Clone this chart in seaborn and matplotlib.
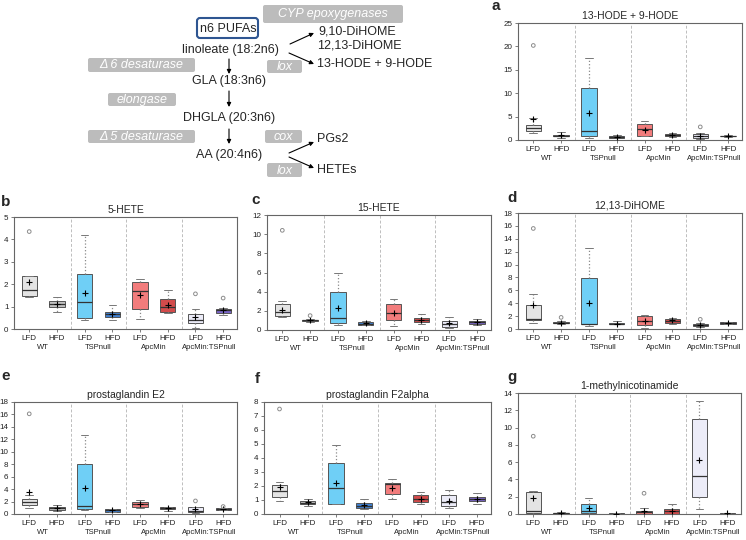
import numpy as np
import pandas as pd
import matplotlib
matplotlib.use("Agg")
import matplotlib.pyplot as plt
from matplotlib.patches import FancyBboxPatch
import seaborn as sns

sns.set_style("white")
plt.rcParams['font.family'] = ['Liberation Sans', 'DejaVu Sans']

# ---------------- data ----------------
groups = ["WT", "TSPnull", "ApcMin", "ApcMin:TSPnull"]
diets = ["LFD", "HFD"]
box_labels = [g + " " + d for g in groups for d in diets]
box_colors = ["#e4e4e4", "#c2c2c2", "#6fcff6", "#3f80d0",
              "#f27c7c", "#d24b4b", "#ececf8", "#7a66c8"]

# five-number summaries per box: [whisker low, Q1, median, Q3, whisker high]
hode_stats = [[1.5, 2.0, 2.6, 3.2, 4.6], [0.5, 0.8, 0.9, 1.1, 1.7],
              [0.5, 0.8, 2.0, 11.2, 17.5], [0.1, 0.4, 0.6, 0.8, 1.0],
              [0.8, 0.9, 2.4, 3.4, 4.0], [0.7, 0.9, 1.1, 1.3, 1.4],
              [0.2, 0.5, 0.9, 1.3, 1.5], [0.7, 0.8, 0.9, 0.95, 1.0]]
hode_means = [4.4, 1.0, 5.8, 0.6, 2.2, 1.1, 0.9, 0.9]
hode_outliers = [(0, 20.2), (6, 2.8)]

hete5_stats = [[1.42, 1.47, 1.76, 2.35, 2.38], [0.75, 0.97, 1.12, 1.26, 1.42],
               [0.4, 0.48, 1.2, 2.47, 4.2], [0.42, 0.55, 0.65, 0.75, 1.08],
               [0.45, 0.9, 1.68, 2.1, 2.22], [0.7, 0.76, 1.0, 1.36, 1.73],
               [0.05, 0.25, 0.4, 0.67, 0.9], [0.62, 0.72, 0.85, 0.9, 0.95]]
hete5_means = [2.1, 1.13, 1.62, 0.67, 1.5, 1.08, 0.55, 0.85]
hete5_outliers = [(0, 4.35), (6, 1.57), (7, 1.38)]

hete15_stats = [[1.4, 1.46, 1.9, 2.7, 3.0], [0.85, 0.9, 1.0, 1.05, 1.1],
                [0.5, 0.7, 1.3, 4.0, 6.0], [0.5, 0.55, 0.65, 0.8, 0.9],
                [0.45, 1.0, 1.8, 2.7, 3.2], [0.6, 0.8, 1.0, 1.25, 1.65],
                [0.2, 0.35, 0.6, 0.95, 1.4], [0.5, 0.65, 0.8, 0.95, 1.2]]
hete15_means = [2.1, 1.0, 2.3, 0.68, 1.8, 1.05, 0.7, 0.8]
hete15_outliers = [(0, 10.4), (1, 1.5)]

dihome_stats = [[1.0, 1.45, 1.6, 3.8, 5.5], [0.7, 0.9, 1.0, 1.1, 1.2],
                [0.4, 0.7, 0.8, 7.9, 12.6], [0.7, 0.75, 0.85, 0.95, 1.2],
                [0.1, 0.6, 1.3, 2.0, 2.2], [0.8, 1.0, 1.3, 1.6, 1.7],
                [0.3, 0.4, 0.6, 0.8, 0.9], [0.8, 0.85, 0.95, 1.05, 1.1]]
dihome_means = [3.7, 1.0, 4.0, 0.85, 1.3, 1.35, 0.6, 0.95]
dihome_outliers = [(0, 15.6), (1, 1.8), (6, 1.5)]

pge2_stats = [[0.9, 1.4, 2.0, 2.45, 3.1], [0.5, 0.7, 0.9, 1.2, 1.4],
              [0.7, 0.75, 1.3, 8.0, 12.7], [0.3, 0.4, 0.6, 0.75, 0.8],
              [1.0, 1.2, 1.6, 2.0, 2.2], [0.5, 0.85, 1.0, 1.15, 1.2],
              [0.2, 0.3, 0.5, 1.1, 1.1], [0.6, 0.7, 0.8, 0.9, 1.0]]
pge2_means = [3.6, 1.0, 4.2, 0.6, 1.6, 1.0, 0.75, 0.8]
pge2_outliers = [(0, 16.1), (6, 2.1), (7, 1.2)]

pgf2a_stats = [[0.95, 1.2, 1.65, 2.1, 2.3], [0.6, 0.7, 0.82, 0.95, 1.1],
               [0.7, 0.7, 1.87, 3.65, 4.9], [0.35, 0.4, 0.6, 0.8, 1.1],
               [1.05, 1.4, 2.15, 2.2, 2.5], [0.7, 0.85, 1.1, 1.35, 1.6],
               [0.4, 0.55, 0.85, 1.35, 1.75], [0.75, 0.9, 1.05, 1.2, 1.5]]
pgf2a_means = [1.9, 0.83, 2.2, 0.65, 1.85, 1.1, 0.95, 1.05]
pgf2a_outliers = [(0, 7.5)]

mna_stats = [[0.05, 0.1, 0.4, 2.6, 2.7], [0.0, 0.05, 0.1, 0.15, 0.2],
             [0.05, 0.1, 0.3, 1.1, 1.85], [0.0, 0.02, 0.04, 0.06, 0.08],
             [0.02, 0.05, 0.2, 0.4, 0.65], [0.0, 0.05, 0.3, 0.6, 1.1],
             [0.6, 2.0, 4.4, 11.0, 13.1], [0.0, 0.02, 0.05, 0.1, 0.15]]
mna_means = [1.8, 0.1, 0.65, 0.05, 0.3, 0.35, 6.2, 0.1]
mna_outliers = [(0, 9.0), (4, 2.4)]

W, H = 746, 540
fig = plt.figure(figsize=(W / 100, H / 100), dpi=100)

# ---------------- pathway diagram ----------------
dg = fig.add_axes([0, 0, 1, 1])
dg.set_xlim(0, W)
dg.set_ylim(H, 0)
dg.axis("off")
dg.patch.set_alpha(0)

FS = 9

def gray_box(x0, y0, x1, y1, text):
    dg.add_patch(FancyBboxPatch((x0, y0), x1 - x0, y1 - y0,
                                boxstyle="round,pad=0,rounding_size=2",
                                fc="#bcbcbc", ec="none"))
    dg.text((x0 + x1) / 2, (y0 + y1) / 2 + 0.5, text, color="white", style="italic",
            fontsize=FS, ha="center", va="center")

def arrow(x0, y0, x1, y1):
    dg.annotate("", xy=(x1, y1), xytext=(x0, y0),
                arrowprops=dict(arrowstyle="-|>", color="black", lw=0.8,
                                mutation_scale=6, shrinkA=0, shrinkB=0))

dg.add_patch(FancyBboxPatch((197, 18), 61, 20, boxstyle="round,pad=0,rounding_size=3",
                            fc="white", ec="#2e5591", lw=1.5))
dg.text(228, 28.5, "n6 PUFAs", fontsize=FS, ha="center", va="center")
gray_box(263, 5, 403, 23, "CYP epoxygenases")
dg.text(230, 50, "linoleate (18:2n6)", fontsize=FS, ha="center", va="center")
dg.text(318, 31, "9,10-DiHOME", fontsize=FS, ha="left", va="center")
dg.text(317, 45, "12,13-DiHOME", fontsize=FS, ha="left", va="center")
dg.text(317, 64, "13-HODE + 9-HODE", fontsize=FS, ha="left", va="center")
arrow(290, 44, 314, 33)
arrow(289, 53, 314, 64)
gray_box(88, 58, 195, 72, "\u0394 6 desaturase")
gray_box(267, 60, 302, 73, "lox")
arrow(229, 59, 229, 74)
dg.text(229, 81, "GLA (18:3n6)", fontsize=FS, ha="center", va="center")
gray_box(108, 93, 176, 106, "elongase")
arrow(229, 91, 229, 107)
dg.text(229, 118, "DHGLA (20:3n6)", fontsize=FS, ha="center", va="center")
gray_box(88, 130, 195, 143, "\u0394 5 desaturase")
gray_box(265, 130, 302, 143, "cox")
arrow(229, 129, 229, 144)
dg.text(229, 155, "AA (20:4n6)", fontsize=FS, ha="center", va="center")
dg.text(317, 139, "PGs2", fontsize=FS, ha="left", va="center")
dg.text(317, 170, "HETEs", fontsize=FS, ha="left", va="center")
arrow(289, 153, 314, 142)
arrow(289, 157, 314, 168)
gray_box(267, 163, 302, 177, "lox")

# ---------------- box plot panels ----------------
def draw_panel(box_px, title, letter, letter_px, stats, means, outliers, ymax, ystep):
    l, t, r, b = box_px
    ax = fig.add_axes([l / W, 1 - b / H, (r - l) / W, (b - t) / H])
    rows = [(lab, v) for lab, s in zip(box_labels, stats) for v in s]
    df = pd.DataFrame(rows, columns=["box", "value"])
    for xs in (1.5, 3.5, 5.5):
        ax.axvline(xs, color="#bdbdbd", ls=(0, (3, 2)), lw=0.7, zorder=0)
    sns.boxplot(data=df, x="box", y="value", hue="box", order=box_labels,
                hue_order=box_labels, palette=dict(zip(box_labels, box_colors)),
                saturation=1, whis=(0, 100), width=0.55, linecolor="#555555",
                linewidth=0.7, legend=False, showfliers=False, ax=ax,
                whiskerprops=dict(linestyle=":", color="#8a8a8a", linewidth=0.9),
                capprops=dict(color="#777777", linewidth=0.7),
                medianprops=dict(color="#333333", linewidth=0.9))
    ax.scatter(range(len(means)), means, marker="+", color="black", s=14,
               linewidths=0.8, zorder=5)
    if outliers:
        ox = [o[0] for o in outliers]
        oy = [o[1] for o in outliers]
        ax.scatter(ox, oy, facecolors="none", edgecolors="#8c8c8c", s=7,
                   linewidths=0.7, zorder=5)
    ax.set_xlim(-0.55, 7.5)
    ax.set_ylim(0, ymax)
    yt = np.arange(0, ymax + 1e-9, ystep)
    ax.set_yticks(yt)
    ax.set_yticklabels([f"{v:g}" for v in yt])
    ax.set_xticks(range(8))
    ax.set_xticklabels(diets * 4)
    ax.set_xlabel("")
    ax.set_ylabel("")
    ax.tick_params(axis="both", length=2, width=0.6, pad=2, labelsize=5.8,
                   labelcolor="#222222", color="#666666", direction="out")
    ax.xaxis.set_ticks_position("bottom")
    ax.yaxis.set_ticks_position("left")
    for sp in ax.spines.values():
        sp.set_visible(True)
        sp.set_color("#666666")
        sp.set_linewidth(0.8)
    for i, g in enumerate(groups):
        ax.annotate(g, xy=(2 * i + 0.5, 0), xycoords=("data", "axes fraction"),
                    xytext=(0, -13), textcoords="offset points",
                    ha="center", va="center", fontsize=5.5, color="#222222")
    ax.set_title(title, fontsize=7.5, pad=3)
    fig.text(letter_px[0] / W, 1 - letter_px[1] / H, letter, fontsize=11,
             fontweight="bold", ha="center", va="center")
    return ax

draw_panel((518, 23, 742, 140), "13-HODE + 9-HODE", "a", (496, 6),
           hode_stats, hode_means, hode_outliers, 25, 5)
draw_panel((14, 217, 237, 329), "5-HETE", "b", (6, 202),
           hete5_stats, hete5_means, hete5_outliers, 5, 1)
draw_panel((267, 215, 491, 330), "15-HETE", "c", (256, 200),
           hete15_stats, hete15_means, hete15_outliers, 12, 2)
draw_panel((518, 213, 742, 329), "12,13-DiHOME", "d", (512, 198),
           dihome_stats, dihome_means, dihome_outliers, 18, 2)
draw_panel((14, 402, 237, 514), "prostaglandin E2", "e", (6, 376),
           pge2_stats, pge2_means, pge2_outliers, 18, 2)
draw_panel((264, 402, 491, 514), "prostaglandin F2alpha", "f", (257, 379),
           pgf2a_stats, pgf2a_means, pgf2a_outliers, 8, 1)
draw_panel((518, 393, 741, 514), "1-methylnicotinamide", "g", (512, 377),
           mna_stats, mna_means, mna_outliers, 14, 2)

fig.savefig("out.png", dpi=100)
